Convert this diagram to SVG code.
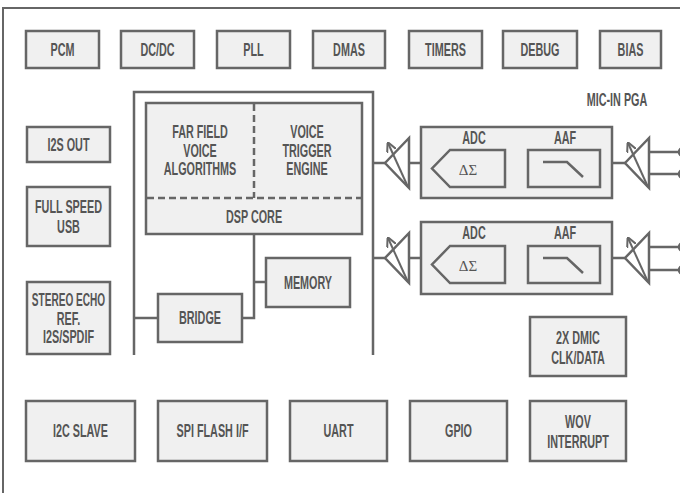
<svg xmlns="http://www.w3.org/2000/svg" width="680" height="493" viewBox="0 0 680 493">
<defs>
<style>
.b{fill:#f0f0f0;stroke:#666;stroke-width:2.5}
.o{fill:none;stroke:#666;stroke-width:2.5}
.l{fill:none;stroke:#666;stroke-width:2.5}
.d{fill:none;stroke:#666;stroke-width:2.5;stroke-dasharray:7 4}
.t{font-family:"Liberation Sans",Arial,sans-serif;font-weight:bold;font-size:18px;fill:#555;text-anchor:middle;dominant-baseline:central}
.g{font-family:"Liberation Serif","DejaVu Serif",serif;font-size:15px;fill:#555;text-anchor:middle;dominant-baseline:central}
.a{fill:none;stroke:#666;stroke-width:2}
</style>
<marker id="ah" viewBox="0 0 10 10" refX="9" refY="5" markerWidth="5" markerHeight="5" orient="auto"><path d="M0,0 L10,5 L0,10" fill="none" stroke="#666" stroke-width="2"/></marker>
<g id="amp"><polygon points="0,0 24,-25 24,25" class="o"/><line x1="23" y1="24" x2="3" y2="-20" class="a" marker-end="url(#ah)"/></g>
</defs>
<rect width="680" height="493" fill="#fff"/>
<path d="M3,493 V8 H680" fill="none" stroke="#666" stroke-width="2"/>

<g id="pcm"><rect class="b" x="26" y="31" width="73" height="37"/><text class="t" transform="translate(62.5,49.5) scale(0.6,1)">PCM</text></g>
<g id="dcdc"><rect class="b" x="121" y="31" width="73" height="37"/><text class="t" transform="translate(157.5,49.5) scale(0.6,1)">DC/DC</text></g>
<g id="pll"><rect class="b" x="217" y="31" width="73" height="37"/><text class="t" transform="translate(253.5,49.5) scale(0.6,1)">PLL</text></g>
<g id="dmas"><rect class="b" x="313" y="31" width="72" height="37"/><text class="t" transform="translate(349,49.5) scale(0.6,1)">DMAS</text></g>
<g id="timers"><rect class="b" x="409" y="31" width="73" height="37"/><text class="t" transform="translate(445.5,49.5) scale(0.6,1)">TIMERS</text></g>
<g id="debug"><rect class="b" x="503" y="31" width="74" height="37"/><text class="t" transform="translate(540,49.5) scale(0.6,1)">DEBUG</text></g>
<g id="bias"><rect class="b" x="600" y="31" width="61" height="37"/><text class="t" transform="translate(630.5,49.5) scale(0.6,1)">BIAS</text></g>

<text class="t" transform="translate(617,100) scale(0.6,1)">MIC-IN PGA</text>

<g id="i2sout"><rect class="b" x="27" y="127" width="83" height="35"/><text class="t" transform="translate(68.5,145) scale(0.6,1)">I2S OUT</text></g>
<g id="usb"><rect class="b" x="27" y="187" width="83" height="59"/><text class="t" transform="translate(68.5,207) scale(0.6,1)">FULL SPEED</text><text class="t" transform="translate(68.5,227) scale(0.6,1)">USB</text></g>
<g id="echo"><rect class="b" x="27" y="282" width="83" height="72"/><text class="t" transform="translate(68.5,300) scale(0.56,1)">STEREO ECHO</text><text class="t" transform="translate(68.5,318.5) scale(0.6,1)">REF.</text><text class="t" transform="translate(68.5,337) scale(0.6,1)">I2S/SPDIF</text></g>

<g id="dsp"><rect class="b" x="146" y="103" width="216" height="131"/>
<line class="d" x1="254" y1="104" x2="254" y2="198"/><line class="d" x1="147" y1="198" x2="361" y2="198"/>
<text class="t" transform="translate(200,132) scale(0.6,1)">FAR FIELD</text><text class="t" transform="translate(200,150.5) scale(0.6,1)">VOICE</text><text class="t" transform="translate(200,169) scale(0.6,1)">ALGORITHMS</text>
<text class="t" transform="translate(307,132) scale(0.6,1)">VOICE</text><text class="t" transform="translate(307,150.5) scale(0.6,1)">TRIGGER</text><text class="t" transform="translate(307,169) scale(0.6,1)">ENGINE</text>
<text class="t" transform="translate(254,217) scale(0.6,1)">DSP CORE</text></g>
<g id="memory"><rect class="b" x="266" y="258" width="84" height="49"/><text class="t" transform="translate(308,282.5) scale(0.6,1)">MEMORY</text></g>
<g id="bridge"><rect class="b" x="158" y="294" width="84" height="48"/><text class="t" transform="translate(200,318) scale(0.6,1)">BRIDGE</text></g>

<g id="dmic"><rect class="b" x="530" y="317" width="96" height="59"/><text class="t" transform="translate(578,338) scale(0.6,1)">2X DMIC</text><text class="t" transform="translate(578,358) scale(0.6,1)">CLK/DATA</text></g>
<g id="i2c"><rect class="b" x="26" y="401" width="109" height="60"/><text class="t" transform="translate(80.5,431) scale(0.6,1)">I2C SLAVE</text></g>
<g id="spi"><rect class="b" x="158" y="401" width="109" height="60"/><text class="t" transform="translate(212.5,431) scale(0.6,1)">SPI FLASH I/F</text></g>
<g id="uart"><rect class="b" x="290" y="401" width="97" height="60"/><text class="t" transform="translate(338.5,431) scale(0.6,1)">UART</text></g>
<g id="gpio"><rect class="b" x="410" y="401" width="97" height="60"/><text class="t" transform="translate(458.5,431) scale(0.6,1)">GPIO</text></g>
<g id="wov"><rect class="b" x="530" y="401" width="96" height="60"/><text class="t" transform="translate(578,422) scale(0.6,1)">WOV</text><text class="t" transform="translate(578,442) scale(0.6,1)">INTERRUPT</text></g>

<g id="adc1">
<rect class="b" x="421" y="127" width="191" height="71"/>
<text class="t" transform="translate(474,138) scale(0.6,1)">ADC</text><text class="t" transform="translate(565,138) scale(0.6,1)">AAF</text>
<polygon class="o" points="450,150 505,150 505,187 450,187 432,168.5"/>
<text class="g" x="468" y="170">ΔΣ</text>
<rect class="o" x="528" y="150" width="72" height="37"/>
<polyline class="o" points="543,162 567,162 583,177"/>
</g>
<g id="adc2">
<rect class="b" x="421" y="222" width="191" height="72"/>
<text class="t" transform="translate(474,233) scale(0.6,1)">ADC</text><text class="t" transform="translate(565,233) scale(0.6,1)">AAF</text>
<polygon class="o" points="450,246 505,246 505,283 450,283 432,264.5"/>
<text class="g" x="468" y="266">ΔΣ</text>
<rect class="o" x="528" y="246" width="72" height="37"/>
<polyline class="o" points="543,258 567,258 583,273"/>
</g>
<g id="amp1"><use href="#amp" x="385" y="163"/></g>
<g id="amp2"><use href="#amp" x="385" y="258"/></g>
<g id="amp3"><use href="#amp" x="625" y="163"/></g>
<g id="amp4"><use href="#amp" x="625" y="258"/></g>

<g id="connectors">
<path class="l" d="M134,355 V92 H373 V355"/>
<path class="l" d="M134,318 H158"/>
<path class="l" d="M254,234 V318 H242"/>
<path class="l" d="M254,282 H266"/>
<path class="l" d="M373,163 H385 M409,163 H421 M612,163 H625"/>
<path class="l" d="M373,258 H385 M409,258 H421 M612,258 H625"/>
<path class="l" d="M649,152 H679 M649,174 H679 M649,247 H679 M649,270 H679"/>
<circle class="b" cx="683" cy="152" r="4"/><circle class="b" cx="683" cy="174" r="4"/>
<circle class="b" cx="683" cy="247" r="4"/><circle class="b" cx="683" cy="270" r="4"/>
</g>
</svg>
